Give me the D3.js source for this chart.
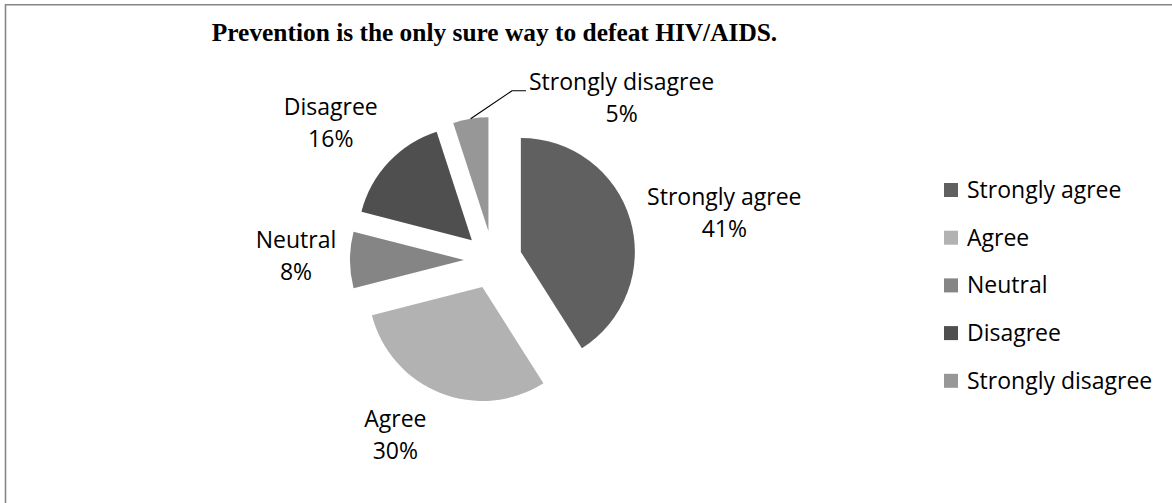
<!DOCTYPE html>
<html>
<head>
<meta charset="utf-8">
<script src="https://cdn.jsdelivr.net/npm/d3@7/dist/d3.min.js"></script>
<style>
  html, body { margin: 0; padding: 0; background: #fff; }
  svg { display: block; }
</style>
</head>
<body>
<svg id="chart" width="1172" height="503"></svg>
<script>
// Survey responses
const categories = ["Strongly agree", "Agree", "Neutral", "Disagree", "Strongly disagree"];
const percents = [41, 30, 8, 16, 5];
const sliceColors = ["#606060", "#b2b2b2", "#858585", "#4f4f4f", "#979797"];
const titleText = "Prevention is the only sure way to defeat HIV/AIDS.";

// Label nudges from each slice's outer midpoint: [dx, dy] to the first text line's baseline
const labelNudge = [[94, -15], [-45, 34], [-54, -12], [-58, -47], [151, -29]];

const W = 1172, H = 503;
const cx = 493, cy = 260, R = 114, explode = 29;
const labelFont = "'Open Sans', 'Noto Sans', sans-serif";
const labelSize = 23;

const svg = d3.select("#chart");

// chart area frame
svg.append("path")
  .attr("d", `M5.5,${H + 2} V4.75 H${W + 2}`)
  .attr("fill", "none")
  .attr("stroke", "#878787")
  .attr("stroke-width", 1.6);

// title
svg.append("text")
  .attr("x", 494.5)
  .attr("y", 41)
  .attr("text-anchor", "middle")
  .attr("font-family", "'Liberation Serif', 'Times New Roman', serif")
  .attr("font-weight", "bold")
  .attr("font-size", 25.4)
  .attr("fill", "#000")
  .text(titleText);

const pie = d3.pie().sort(null).value(d => d)(percents);
const arc = d3.arc().innerRadius(0).outerRadius(R);

const dirOf = a => [Math.sin(a), -Math.cos(a)];

const g = svg.append("g").attr("transform", `translate(${cx},${cy})`);

g.selectAll("path.slice")
  .data(pie)
  .join("path")
  .attr("class", "slice")
  .attr("d", arc)
  .attr("fill", (d, i) => sliceColors[i])
  .attr("transform", d => {
    const [ux, uy] = dirOf((d.startAngle + d.endAngle) / 2);
    return `translate(${ux * explode},${uy * explode})`;
  });

// data labels
pie.forEach((d, i) => {
  const [ux, uy] = dirOf((d.startAngle + d.endAngle) / 2);
  const ox = ux * (R + explode), oy = uy * (R + explode);
  const lx = ox + labelNudge[i][0], ly = oy + labelNudge[i][1];
  const t = g.append("text")
    .attr("text-anchor", "middle")
    .attr("font-family", labelFont)
    .attr("font-size", labelSize)
    .attr("fill", "#000");
  t.append("tspan").attr("x", lx).attr("y", ly).text(categories[i]);
  t.append("tspan").attr("x", lx).attr("y", ly + 32).text(percents[i] + "%");

  // leader line for the narrow slice whose label sits away from it
  if (i === categories.length - 1) {
    const w = t.select("tspan").node().getComputedTextLength();
    const ex = lx - w / 2 - 3, ey = ly + 1;
    g.append("polyline")
      .attr("points", `${ox},${oy} ${ex - 14},${ey} ${ex},${ey}`)
      .attr("fill", "none")
      .attr("stroke", "#000")
      .attr("stroke-width", 1.2);
  }
});

// legend
const legend = svg.append("g").attr("transform", "translate(944,190)");
const rows = legend.selectAll("g")
  .data(categories)
  .join("g")
  .attr("transform", (d, i) => `translate(0,${i * 47.7})`);
rows.append("rect")
  .attr("x", 0).attr("y", -7)
  .attr("width", 14).attr("height", 14)
  .attr("fill", (d, i) => sliceColors[i]);
rows.append("text")
  .attr("x", 23)
  .attr("y", 0)
  .attr("dy", "0.35em")
  .attr("font-family", labelFont)
  .attr("font-size", labelSize)
  .attr("fill", "#000")
  .text(d => d);
</script>
</body>
</html>
